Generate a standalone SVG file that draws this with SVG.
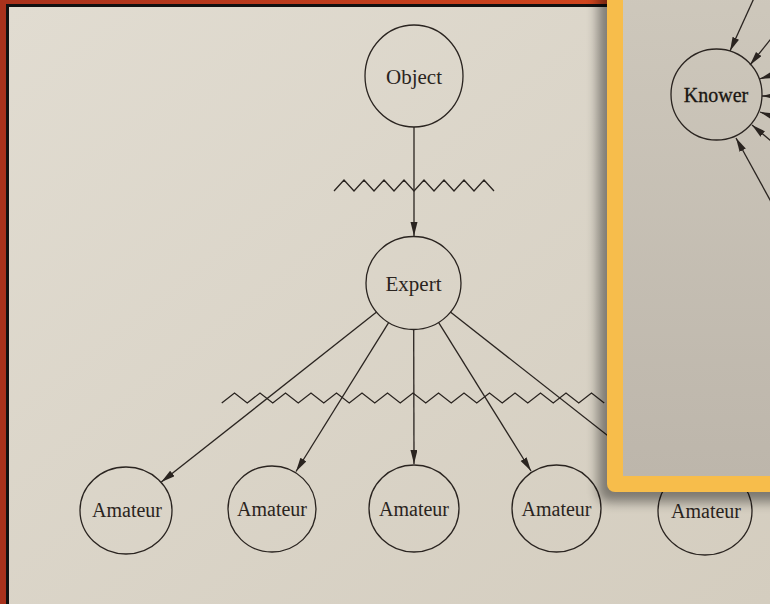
<svg xmlns="http://www.w3.org/2000/svg" width="770" height="604" viewBox="0 0 770 604">
  <defs>
    <linearGradient id="pageGrad" x1="0" y1="0" x2="1" y2="1">
      <stop offset="0" stop-color="#e1dcd1"/>
      <stop offset="1" stop-color="#d4cdbf"/>
    </linearGradient>
    <linearGradient id="topRed" x1="0" y1="0" x2="1" y2="0">
      <stop offset="0" stop-color="#a9321c"/>
      <stop offset="1" stop-color="#da4a1e"/>
    </linearGradient>
    <linearGradient id="panelGrad" x1="0" y1="0" x2="0" y2="1">
      <stop offset="0" stop-color="#cec8bc"/>
      <stop offset="1" stop-color="#bdb6ab"/>
    </linearGradient>
    <filter id="shadow" x="-20%" y="-20%" width="140%" height="140%">
      <feGaussianBlur stdDeviation="6"/>
    </filter>
    <marker id="arrow" markerUnits="userSpaceOnUse" markerWidth="15" markerHeight="8" refX="14" refY="3.5" orient="auto">
      <path d="M0,0 L14,3.5 L0,7 Z" fill="#2a2420"/>
    </marker>
    <clipPath id="panelClip">
      <rect x="623" y="0" width="147" height="476"/>
    </clipPath>
  </defs>
  <style>
    .edge { stroke: #2a2420; stroke-width: 1.3; fill: none; }
    .arr { marker-end: url(#arrow); }
    .node { fill: none; stroke: #2a2420; stroke-width: 1.3; }
    .zig { fill: none; stroke: #2a2420; stroke-width: 1.3; stroke-linejoin: miter; }
    .label { font-family: "Liberation Serif", "DejaVu Serif", serif; font-size: 20px; fill: #2a2420; text-anchor: middle; }
    .big { font-size: 21px; }
    .dark { fill: #1a1612; stroke: #1a1612; stroke-width: 0.3; }
  </style>

  <!-- photo frame -->
  <rect x="0" y="0" width="770" height="604" fill="#a9321c"/>
  <rect x="0" y="0" width="770" height="5" fill="url(#topRed)"/>
  <rect x="6" y="4" width="764" height="600" fill="#111"/>
  <rect x="9" y="7" width="761" height="597" fill="url(#pageGrad)"/>

  <!-- barriers -->
  <g id="barriers">
    <polyline class="zig" points="334,191 344,180 354,191 364,180 374,191 384,180 394,191 404,180 414,191 424,180 434,191 444,180 454,191 464,180 474,191 484,180 494,191"/>
    <polyline class="zig" points="221.75,403 234.5,393 247.25,403 260,393 272.75,403 285.5,393 298.25,403 311,393 323.75,403 336.5,393 349.25,403 362,393 374.75,403 387.5,393 400.25,403 413,393 425.75,403 438.5,393 451.25,403 464,393 476.75,403 489.5,393 502.25,403 515,393 527.75,403 540.5,393 553.25,403 566,393 578.75,403 591.5,393 604.25,403"/>
  </g>

  <!-- connectors -->
  <g id="connectors">
    <line class="edge arr" x1="414" y1="127" x2="414" y2="236"/>
    <line class="edge arr" x1="376.6" y1="312.1" x2="161.3" y2="482.1"/>
    <line class="edge arr" x1="388.5" y1="322.9" x2="296" y2="471.5"/>
    <line class="edge arr" x1="413.7" y1="330" x2="414" y2="464"/>
    <line class="edge arr" x1="438.7" y1="322.7" x2="531" y2="471"/>
    <line class="edge arr" x1="450.4" y1="312" x2="668" y2="483"/>
  </g>

  <!-- nodes -->
  <g id="object">
    <ellipse class="node" cx="414" cy="76" rx="49" ry="51"/>
    <text class="label big" x="414" y="84">Object</text>
  </g>
  <g id="expert">
    <ellipse class="node" cx="413.5" cy="283" rx="47.5" ry="46.5"/>
    <text class="label big" x="413.5" y="291">Expert</text>
  </g>
  <g id="amateur1">
    <ellipse class="node" cx="126" cy="510.5" rx="46" ry="43.5"/>
    <text class="label" x="127" y="517">Amateur</text>
  </g>
  <g id="amateur2">
    <ellipse class="node" cx="272" cy="509" rx="44" ry="43"/>
    <text class="label" x="272" y="516">Amateur</text>
  </g>
  <g id="amateur3">
    <ellipse class="node" cx="414" cy="508.5" rx="45" ry="43.5"/>
    <text class="label" x="414" y="516">Amateur</text>
  </g>
  <g id="amateur4">
    <ellipse class="node" cx="556.5" cy="508.5" rx="44.5" ry="43.5"/>
    <text class="label" x="556.5" y="516">Amateur</text>
  </g>
  <g id="amateur5">
    <ellipse class="node" cx="705" cy="511" rx="47" ry="44"/>
    <text class="label" x="706" y="518">Amateur</text>
  </g>

  <!-- overlay panel -->
  <g id="panel">
    <rect x="598" y="-20" width="200" height="522" rx="10" fill="#000" opacity="0.42" filter="url(#shadow)"/>
    <rect x="607" y="-20" width="190" height="512" rx="8" fill="#f7bd4b"/>
    <rect x="623" y="-20" width="170" height="496" fill="url(#panelGrad)"/>
    <g id="knower-connectors" clip-path="url(#panelClip)">
      <line class="edge arr" x1="755" y1="-4" x2="730" y2="51"/>
      <line class="edge arr" x1="802" y1="0" x2="750" y2="65"/>
      <line class="edge arr" x1="800" y1="66" x2="759.5" y2="79"/>
      <line class="edge arr" x1="800" y1="96" x2="762" y2="96"/>
      <line class="edge arr" x1="800" y1="126" x2="760" y2="112"/>
      <line class="edge arr" x1="790" y1="157" x2="752" y2="125"/>
      <line class="edge arr" x1="775" y1="209" x2="736" y2="138"/>
    </g>
    <g id="knower">
      <ellipse class="node" cx="716.5" cy="94.5" rx="45.5" ry="45.5"/>
      <text class="label dark" x="716" y="102">Knower</text>
    </g>
  </g>
</svg>
